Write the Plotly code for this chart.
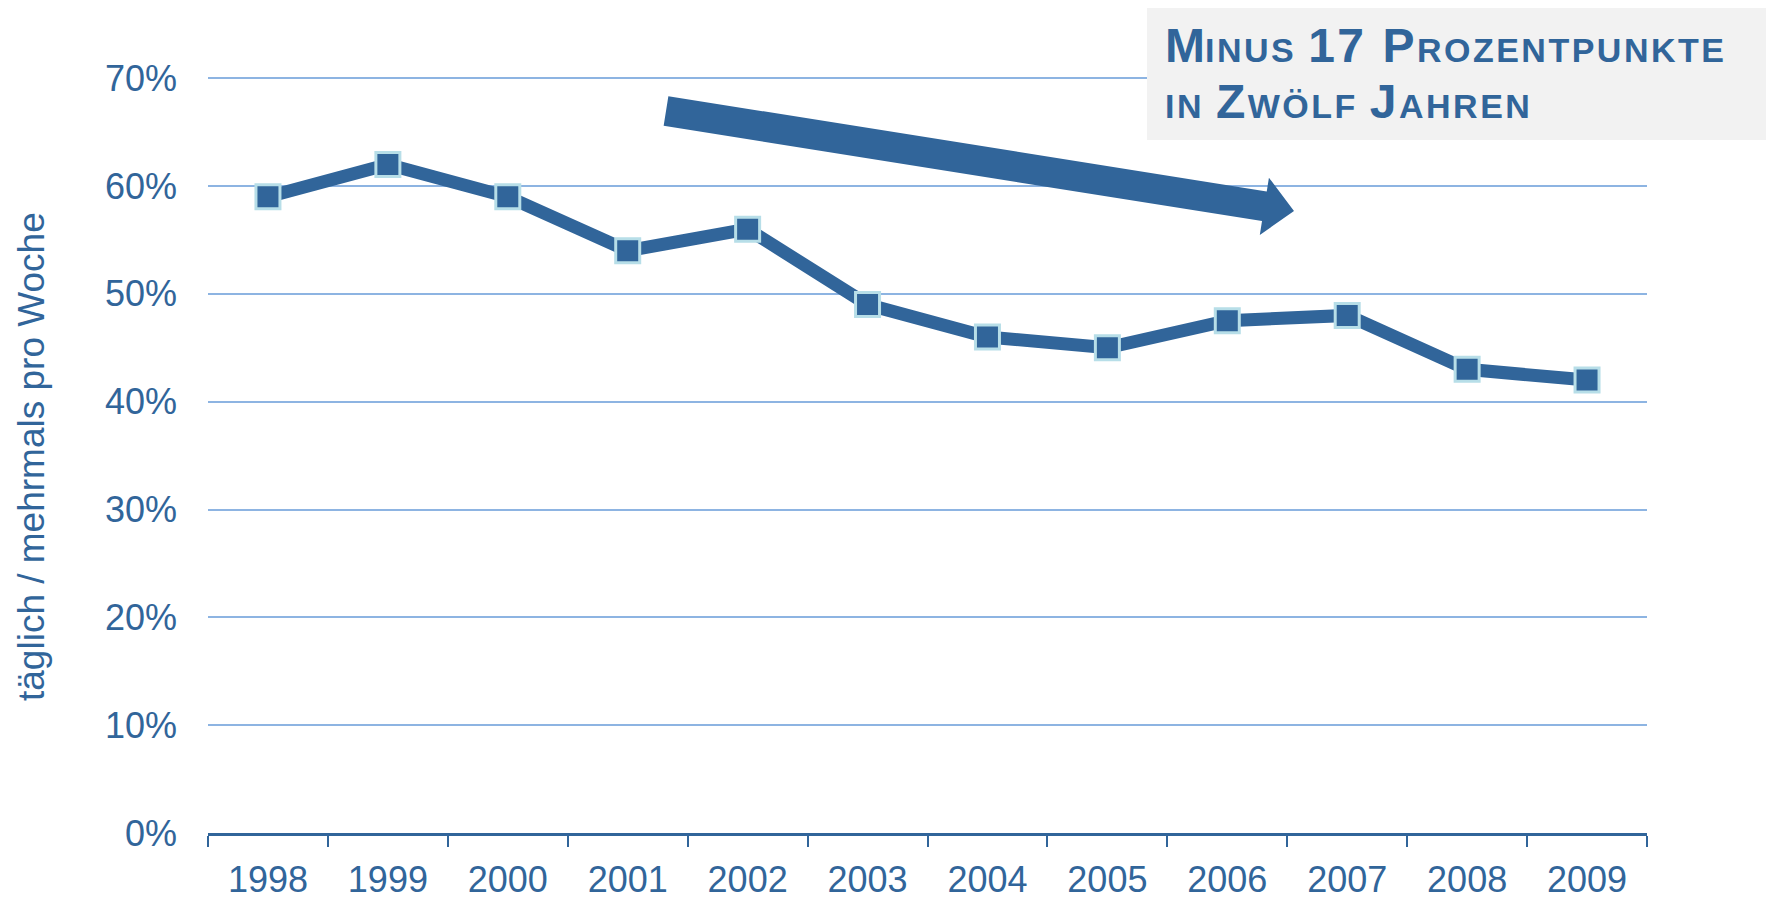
import math
import plotly.graph_objects as go

# ---- data ----
years = ["1998", "1999", "2000", "2001", "2002", "2003", "2004", "2005", "2006", "2007", "2008", "2009"]
share = [0.59, 0.62, 0.59, 0.54, 0.56, 0.49, 0.46, 0.45, 0.475, 0.48, 0.43, 0.42]
y_ticks = [0, 0.1, 0.2, 0.3, 0.4, 0.5, 0.6, 0.7]
y_title = "täglich / mehrmals pro Woche"
headline_1 = ('<span style="font-size:48px">M</span>'
              '<span style="font-size:34px;letter-spacing:2.5px">INUS </span>'
              '<span style="font-size:48px;letter-spacing:2.5px">17 P</span>'
              '<span style="font-size:34px;letter-spacing:2.5px">ROZENTPUNKTE</span>')
headline_2 = ('<span style="font-size:34px;letter-spacing:2.5px">IN </span>'
              '<span style="font-size:48px;letter-spacing:2.5px">Z</span>'
              '<span style="font-size:34px;letter-spacing:2.5px">WÖLF </span>'
              '<span style="font-size:48px;letter-spacing:2.5px">J</span>'
              '<span style="font-size:34px;letter-spacing:2.5px">AHREN</span>')

# ---- layout geometry (page has an 8px body margin) ----
OFF = 8
W, H = 1766, 896
L, R, T, B = 200, 127, 68, 71
PW, PH = W - L - R, H - T - B

BLUE = "#31659A"
GRID = "#8DB4E2"
FONT = "Arial, Liberation Sans, sans-serif"


def px(x):
    return (x - OFF - L) / PW


def py(y):
    return (H - B - (y - OFF)) / PH


fig = go.Figure()
fig.add_trace(go.Scatter(
    x=years, y=share, mode="lines+markers",
    line=dict(color=BLUE, width=13),
    marker=dict(symbol="square", size=24, color=BLUE,
                line=dict(color="#B7DEE8", width=3)),
    showlegend=False, hoverinfo="x+y",
))

# arrow polygon (screen pixels -> paper)
tail = (666, 111)
tip = (1294, 211)
dx, dy = tip[0] - tail[0], tip[1] - tail[1]
ln = math.hypot(dx, dy)
ux, uy = dx / ln, dy / ln
nx, ny = -uy, ux
hw, hh, hl = 15, 29, 30
bx, by = tip[0] - hl * ux, tip[1] - hl * uy
pts = [
    (tail[0] - hw * nx, tail[1] - hw * ny),
    (bx - hw * nx, by - hw * ny),
    (bx - hh * nx, by - hh * ny),
    tip,
    (bx + hh * nx, by + hh * ny),
    (bx + hw * nx, by + hw * ny),
    (tail[0] + hw * nx, tail[1] + hw * ny),
]
path = "M " + " L ".join(f"{px(x):.5f},{py(y):.5f}" for x, y in pts) + " Z"

fig.add_shape(type="path", path=path, xref="paper", yref="paper",
              fillcolor=BLUE, line=dict(width=0), layer="above")
fig.add_shape(type="rect", xref="paper", yref="paper",
              x0=px(1147), x1=px(1780), y0=py(140), y1=py(5),
              fillcolor="#F2F2F2", line=dict(width=0), layer="above")

fig.add_annotation(text="<b>" + headline_1 + "</b>", xref="paper", yref="paper",
                   x=px(1163), y=py(46), xanchor="left", yanchor="middle",
                   showarrow=False, font=dict(family=FONT, size=48, color=BLUE))
fig.add_annotation(text="<b>" + headline_2 + "</b>", xref="paper", yref="paper",
                   x=px(1163), y=py(101), xanchor="left", yanchor="middle",
                   showarrow=False, font=dict(family=FONT, size=48, color=BLUE))
fig.add_annotation(text=y_title, xref="paper", yref="paper",
                   x=px(32), y=py(457), xanchor="center", yanchor="middle",
                   textangle=-90, showarrow=False,
                   font=dict(family=FONT, size=37, color=BLUE))

fig.update_layout(
    width=W, height=H,
    margin=dict(l=L, r=R, t=T, b=B, autoexpand=False),
    paper_bgcolor="white", plot_bgcolor="white",
    font=dict(family=FONT, size=36, color=BLUE),
    xaxis=dict(type="category", categoryorder="array", categoryarray=years,
               range=[-0.5, len(years) - 0.5],
               showgrid=False, showline=True, linecolor=BLUE, linewidth=3,
               ticks="outside", tickson="boundaries", ticklen=11, tickwidth=2,
               tickcolor=BLUE, tickfont=dict(size=36, color=BLUE),
               ticklabelstandoff=13, zeroline=False),
    yaxis=dict(range=[0, 0.702], tickvals=y_ticks, tickformat=".0%",
               showgrid=True, gridcolor=GRID, gridwidth=1.5,
               showline=False, zeroline=False, ticks="",
               tickfont=dict(size=36, color=BLUE), ticklabelstandoff=30),
)

fig.write_html("out.html")
